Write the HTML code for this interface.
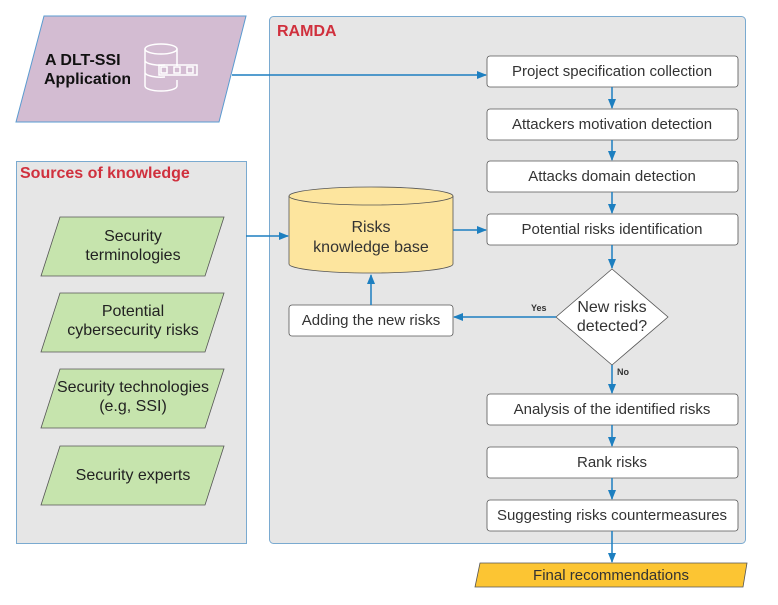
<!DOCTYPE html>
<html><head><meta charset="utf-8"><style>
html,body{margin:0;padding:0;background:#fff;width:778px;height:605px;overflow:hidden}
text{font-family:"Liberation Sans",sans-serif}
</style></head><body>
<svg width="778" height="605" viewBox="0 0 778 605" xmlns="http://www.w3.org/2000/svg">
<defs><marker id="a" markerWidth="10" markerHeight="10" refX="9" refY="5" orient="auto" markerUnits="userSpaceOnUse"><path d="M0,1 L10,5 L0,9 Z" fill="#1d7fc0"/></marker></defs>
<!-- containers -->
<rect x="269.5" y="16.5" width="476" height="527" rx="4" fill="#e6e6e6" stroke="#7aaad0"/>
<rect x="16.5" y="161.5" width="230" height="382" fill="#e6e6e6" stroke="#7aaad0"/>
<text x="277" y="36" font-size="16" font-weight="bold" fill="#d0303d">RAMDA</text>
<text x="20" y="178" font-size="16" font-weight="bold" fill="#d0303d">Sources of knowledge</text>
<!-- DLT -->
<polygon points="44,16 246,16 219,122 16,122" fill="#d3bcd2" stroke="#5a9bd0"/>
<text x="45" y="65" font-size="16" font-weight="bold" fill="#111">A DLT-SSI</text>
<text x="44" y="84" font-size="16" font-weight="bold" fill="#111">Application</text>
<rect x="130" y="40" width="10" height="60" fill="#d3bcd2"/>
<g fill="none" stroke="#fff" stroke-width="1.5">
<ellipse cx="161" cy="49" rx="16" ry="5"/>
<path d="M145,49 V86 A16,5 0 0 0 177,86 V80"/><path d="M177,49 V66"/>
<path d="M145,61 A16,5 0 0 0 165,65"/><path d="M145,73 A16,5 0 0 0 165,77"/>
<rect x="159" y="65" width="38" height="10"/>
<rect x="161" y="67" width="6" height="6"/><rect x="174" y="67" width="6" height="6"/><rect x="187" y="67" width="6" height="6"/>
</g>
<!-- green -->
<g fill="#c6e4ad" stroke="#555" stroke-width="0.8">
<polygon points="60,217 224,217 205,276 41,276"/>
<polygon points="60,293 224,293 205,352 41,352"/>
<polygon points="60,369 224,369 205,428 41,428"/>
<polygon points="60,446 224,446 205,505 41,505"/>
</g>
<g font-size="16" fill="#222" text-anchor="middle">
<text x="133" y="241">Security</text><text x="133" y="260">terminologies</text>
<text x="133" y="316">Potential</text><text x="133" y="335">cybersecurity risks</text>
<text x="133" y="392">Security technologies</text><text x="133" y="411">(e.g, SSI)</text>
<text x="133" y="480">Security experts</text>
</g>
<!-- process boxes -->
<g fill="#fff" stroke="#555" stroke-width="0.8">
<rect x="487" y="56" width="251" height="31" rx="3"/>
<rect x="487" y="109" width="251" height="31" rx="3"/>
<rect x="487" y="161" width="251" height="31" rx="3"/>
<rect x="487" y="214" width="251" height="31" rx="3"/>
<rect x="487" y="394" width="251" height="31" rx="3"/>
<rect x="487" y="447" width="251" height="31" rx="3"/>
<rect x="487" y="500" width="251" height="31" rx="3"/>
<rect x="289" y="305" width="164" height="31" rx="3"/>
<polygon points="612,269 668,317 612,365 556,317"/>
</g>
<g font-size="15" fill="#333" text-anchor="middle">
<text x="612" y="76">Project specification collection</text>
<text x="612" y="129">Attackers motivation detection</text>
<text x="612" y="181">Attacks domain detection</text>
<text x="612" y="234">Potential risks identification</text>
<text x="612" y="414">Analysis of the identified risks</text>
<text x="612" y="467">Rank risks</text>
<text x="612" y="520">Suggesting risks countermeasures</text>
<text x="371" y="325">Adding the new risks</text>
<text x="612" y="312" font-size="16">New risks</text>
<text x="612" y="331" font-size="16">detected?</text>
</g>
<!-- cylinder -->
<path d="M289,196 V264 A82,9 0 0 0 453,264 V196" fill="#fde59e" stroke="#555" stroke-width="0.8"/>
<ellipse cx="371" cy="196" rx="82" ry="9" fill="#fde59e" stroke="#555" stroke-width="0.8"/>
<text x="371" y="232" font-size="16" fill="#333" text-anchor="middle">Risks</text>
<text x="371" y="252" font-size="16" fill="#333" text-anchor="middle">knowledge base</text>
<!-- final -->
<polygon points="480,563 747,563 743,587 475,587" fill="#fcc533" stroke="#555" stroke-width="0.8"/>
<text x="611" y="580" font-size="15" fill="#333" text-anchor="middle">Final recommendations</text>
<!-- arrows -->
<g stroke="#1d7fc0" stroke-width="1.5" fill="none" marker-end="url(#a)">
<path d="M232,75 H486"/>
<path d="M612,87 V108"/>
<path d="M612,140 V160"/>
<path d="M612,192 V213"/>
<path d="M612,245 V268"/>
<path d="M612,365 V393"/>
<path d="M612,425 V446"/>
<path d="M612,478 V499"/>
<path d="M612,531 V562"/>
<path d="M556,317 H454"/>
<path d="M371,305 V275"/>
<path d="M453,230 H486"/>
<path d="M246,236 H288"/>
</g>
<text x="531" y="311" font-size="9" font-weight="bold" fill="#333">Yes</text>
<text x="617" y="375" font-size="9" font-weight="bold" fill="#333">No</text>
</svg>
</body></html>
